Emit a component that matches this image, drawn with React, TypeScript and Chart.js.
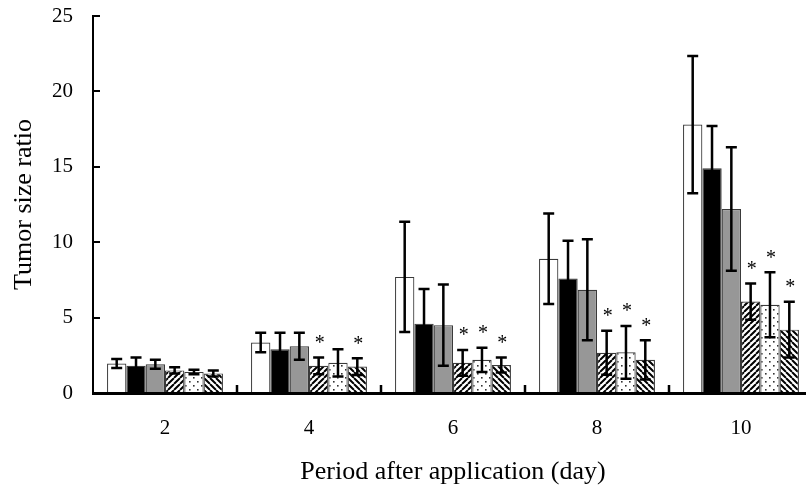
import React, { useEffect, useRef } from 'react';
import { Chart, registerables } from 'chart.js';

Chart.register(...registerables);

// ---- data ----
const categories = ['2', '4', '6', '8', '10'];
const yTickValues = [0, 5, 10, 15, 20, 25];

const seriesNames = ['Group 1', 'Group 2', 'Group 3', 'Group 4', 'Group 5', 'Group 6'];

const whiteMeans = [1.95, 3.35, 7.7, 8.9, 17.8];
const whiteErrs = [0.3, 0.65, 3.65, 3.0, 4.55];

const blackMeans = [1.8, 2.9, 4.6, 7.6, 14.9];
const blackErrs = [0.55, 1.1, 2.3, 2.5, 2.8];

const grayMeans = [1.9, 3.1, 4.5, 6.85, 12.2];
const grayErrs = [0.3, 0.9, 2.7, 3.35, 4.1];

const hatchAMeans = [1.5, 1.8, 2.0, 2.67, 6.06];
const hatchAErrs = [0.2, 0.55, 0.85, 1.46, 1.2];

const dotMeans = [1.4, 2.0, 2.2, 2.7, 5.85];
const dotErrs = [0.15, 0.9, 0.8, 1.75, 2.15];

const hatchBMeans = [1.3, 1.75, 1.86, 2.2, 4.2];
const hatchBErrs = [0.2, 0.55, 0.5, 1.3, 1.85];

// significance marks (*)
const whiteSig = [false, false, false, false, false];
const blackSig = [false, false, false, false, false];
const graySig = [false, false, false, false, false];
const hatchASig = [false, true, true, true, true];
const dotSig = [false, false, true, true, true];
const hatchBSig = [false, true, true, true, true];

const allMeans = [whiteMeans, blackMeans, grayMeans, hatchAMeans, dotMeans, hatchBMeans];
const allErrs = [whiteErrs, blackErrs, grayErrs, hatchAErrs, dotErrs, hatchBErrs];
const allSig = [whiteSig, blackSig, graySig, hatchASig, dotSig, hatchBSig];

const FONT = "'Liberation Serif', 'Times New Roman', serif";

function makeHatch(ctx: CanvasRenderingContext2D, dir: 1 | -1): CanvasPattern {
  const s = 6;
  const c = document.createElement('canvas');
  c.width = s;
  c.height = s;
  const g = c.getContext('2d')!;
  g.fillStyle = '#fff';
  g.fillRect(0, 0, s, s);
  g.strokeStyle = '#000';
  g.lineWidth = 2;
  g.beginPath();
  for (let k = -1; k <= 1; k++) {
    if (dir === 1) {
      g.moveTo(k * s, s);
      g.lineTo(k * s + s, 0);
    } else {
      g.moveTo(k * s, 0);
      g.lineTo(k * s + s, s);
    }
  }
  g.stroke();
  return ctx.createPattern(c, 'repeat')!;
}

function makeDots(ctx: CanvasRenderingContext2D): CanvasPattern {
  const s = 8;
  const c = document.createElement('canvas');
  c.width = s;
  c.height = s;
  const g = c.getContext('2d')!;
  g.fillStyle = '#fff';
  g.fillRect(0, 0, s, s);
  g.fillStyle = '#333';
  g.fillRect(1, 1, 1.6, 1.6);
  g.fillRect(5, 5, 1.6, 1.6);
  return ctx.createPattern(c, 'repeat')!;
}

const errorBarPlugin = {
  id: 'errorBars',
  afterDatasetsDraw(chart: any) {
    const ctx = chart.ctx as CanvasRenderingContext2D;
    const ys = chart.scales.y;
    const cap = 5.5;
    chart.data.datasets.forEach((ds: any, di: number) => {
      const meta = chart.getDatasetMeta(di);
      meta.data.forEach((bar: any, i: number) => {
        const v = ds.data[i] as number;
        const e = allErrs[di][i];
        const x = bar.x;
        const yt = ys.getPixelForValue(v + e);
        const yb = ys.getPixelForValue(v - e);
        ctx.save();
        ctx.strokeStyle = '#000';
        ctx.lineWidth = 2.5;
        ctx.beginPath();
        ctx.moveTo(x, yt);
        ctx.lineTo(x, yb);
        ctx.moveTo(x - cap, yt);
        ctx.lineTo(x + cap, yt);
        ctx.moveTo(x - cap, yb);
        ctx.lineTo(x + cap, yb);
        ctx.stroke();
        if (allSig[di][i]) {
          ctx.fillStyle = '#000';
          ctx.font = `20px ${FONT}`;
          ctx.textAlign = 'center';
          ctx.textBaseline = 'alphabetic';
          ctx.fillText('*', x + 1, yt - 18 + 9.3);
        }
        ctx.restore();
      });
    });
  },
};

const inwardTicksPlugin = {
  id: 'inwardTicks',
  afterDraw(chart: any) {
    const ctx = chart.ctx as CanvasRenderingContext2D;
    const { left, bottom } = chart.chartArea;
    const ys = chart.scales.y;
    const xs = chart.scales.x;
    ctx.save();
    ctx.strokeStyle = '#000';
    ctx.lineWidth = 2;
    ctx.beginPath();
    ys.ticks.forEach((t: any) => {
      const py = Math.round(ys.getPixelForValue(t.value));
      ctx.moveTo(left, py);
      ctx.lineTo(left + 7, py);
    });
    ctx.stroke();
    ctx.lineWidth = 2.5;
    ctx.beginPath();
    for (let i = 0; i < categories.length - 1; i++) {
      const px = Math.round((xs.getPixelForTick(i) + xs.getPixelForTick(i + 1)) / 2);
      ctx.moveTo(px, bottom);
      ctx.lineTo(px, bottom - 8);
    }
    ctx.stroke();
    ctx.restore();
  },
};

export default function App() {
  const ref = useRef<HTMLCanvasElement | null>(null);

  useEffect(() => {
    const canvas = ref.current;
    if (!canvas) return;
    const ctx = canvas.getContext('2d')!;
    const fills: (string | CanvasPattern)[] = [
      '#ffffff',
      '#000000',
      '#979797',
      makeHatch(ctx, 1),
      makeDots(ctx),
      makeHatch(ctx, -1),
    ];
    const chart = new Chart(canvas, {
      type: 'bar',
      data: {
        labels: categories,
        datasets: allMeans.map((m, i) => ({
          label: seriesNames[i],
          data: m,
          backgroundColor: fills[i] as any,
          borderColor: '#3a3a3a',
          borderWidth: 1.2,
          categoryPercentage: 0.805,
          barPercentage: 1,
        })),
      },
      options: {
        animation: false,
        responsive: false,
        devicePixelRatio: 1,
        layout: { padding: { top: 16, right: 0, bottom: 0, left: 0 } },
        plugins: {
          legend: { display: false },
          tooltip: { enabled: false },
        },
        scales: {
          x: {
            grid: { display: false, drawTicks: false },
            border: { display: true, color: '#000', width: 3, z: 1 },
            ticks: {
              color: '#000',
              font: { family: FONT, size: 21 },
              padding: 23,
              maxRotation: 0,
            },
            title: {
              display: true,
              text: 'Period after application (day)',
              color: '#000',
              font: { family: FONT, size: 26, lineHeight: 1 },
              padding: { top: 0, bottom: 1 },
            },
            afterFit(scale: any) {
              scale.height = 93;
              scale.paddingLeft = 0;
              scale.paddingRight = 0;
            },
          },
          y: {
            min: 0,
            max: 25,
            afterBuildTicks(scale: any) {
              scale.ticks = yTickValues.map((v) => ({ value: v }));
            },
            grid: { display: false, drawTicks: false },
            border: { display: true, color: '#000', width: 2, z: 1 },
            ticks: {
              color: '#000',
              font: { family: FONT, size: 21 },
              padding: 20,
            },
            title: {
              display: true,
              text: 'Tumor size ratio',
              color: '#000',
              font: { family: FONT, size: 26, lineHeight: 1 },
              padding: { top: 11, bottom: 0 },
            },
            afterFit(scale: any) {
              scale.width = 93;
              scale.paddingTop = 0;
              scale.paddingBottom = 0;
            },
          },
        },
      },
      plugins: [errorBarPlugin, inwardTicksPlugin],
    });
    return () => chart.destroy();
  }, []);

  return (
    <div
      style={{
        position: 'fixed',
        left: 0,
        top: 0,
        width: 806,
        height: 486,
        overflow: 'hidden',
        background: '#fff',
      }}
    >
      <canvas ref={ref} width={813} height={486} style={{ display: 'block', width: 813, height: 486 }} />
    </div>
  );
}
